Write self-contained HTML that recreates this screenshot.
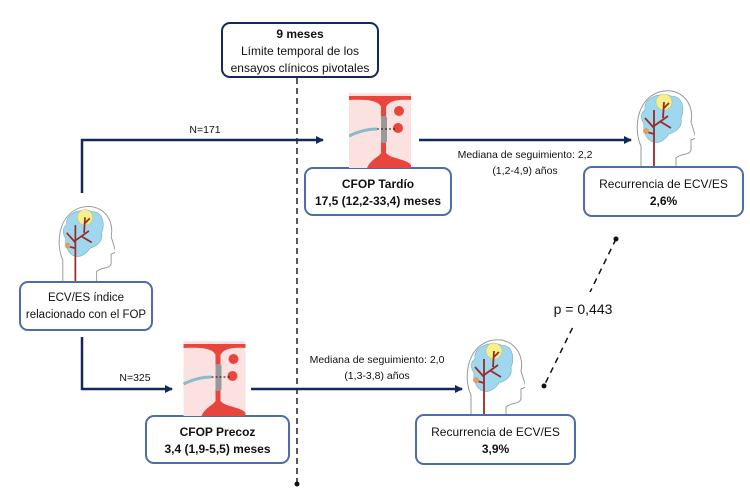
<!DOCTYPE html>
<html><head><meta charset="utf-8"><style>
body{margin:0;background:#fff;}
#c{position:relative;width:750px;height:500px;overflow:hidden;font-family:"Liberation Sans",sans-serif;color:#111;}
.box{position:absolute;box-sizing:border-box;border:2px solid #4d6cab;border-radius:9px;background:#fff;text-align:center;font-size:12px;line-height:17px;white-space:nowrap;}
.t{position:absolute;font-size:10.5px;text-align:center;line-height:16px;white-space:nowrap;}
b{font-weight:bold;}
</style></head><body><div id="c">
<svg width="750" height="500" style="position:absolute;left:0;top:0">
<defs>
<marker id="ar" markerWidth="8" markerHeight="8" refX="7" refY="4" orient="auto" markerUnits="userSpaceOnUse"><path d="M0,0 L8,4 L0,8 z" fill="#14285a"/></marker>
<symbol id="head" viewBox="0 0 60 80">
<path d="M6 80 L6 58 C-1 44 0 12 24 4 C44 -2 60 14 56 34 L61 50 L56 52 L56 62 C54 68 46 65 41 70 L41 80" fill="none" stroke="#999" stroke-width="1"/>
<path d="M10 22 C8 8 28 4 36 8 C48 8 50 22 46 30 C48 40 40 44 34 46 C30 52 24 56 18 54 C12 52 8 44 9 36 C5 30 6 24 10 22z" fill="#9fd8ee" stroke="#7ab" stroke-width="0.6"/>
<circle cx="29" cy="14" r="8" fill="#f7f08a" stroke="#bb9" stroke-width="0.6"/>
<path d="M19 80 L19 22 M19 40 L10 30 M19 38 L33 28 M26 34 L36 40 M28 30 L29 14 M29 20 L34 15 M19 46 L12 44" stroke="#9b2a2a" stroke-width="1.8" fill="none"/>
<circle cx="11" cy="43" r="3" fill="#d9a060"/>
</symbol>
<symbol id="heart" viewBox="0 0 62 75">
<rect x="0" y="0" width="62" height="75" fill="#fbe1df"/>
<path d="M0 3 L62 3 L62 7 C48 6 40 8 37 14 L37 60 C42 66 58 66 62 72 L62 75 L18 75 C22 66 30 64 32 60 L32 14 C30 8 20 6 0 7z" fill="#e8453c"/>
<circle cx="50" cy="18" r="5" fill="#e8453c"/>
<circle cx="49" cy="35" r="5" fill="#e8453c"/>
<rect x="32" y="23" width="6" height="27" rx="2" fill="#999"/>
<path d="M0 43 C10 38 20 36 28 36" stroke="#8bc" stroke-width="3" fill="none"/>
<path d="M28 36 L46 36" stroke="#111" stroke-width="1" stroke-dasharray="2,2"/>
</symbol>
</defs>
<line x1="297" y1="78" x2="297" y2="484" stroke="#222" stroke-width="1.5" stroke-dasharray="6,4"/>
<circle cx="297" cy="484" r="2.5" fill="#111"/>
<path d="M82 193 L82 140 L323 140" stroke="#14285a" stroke-width="2.5" fill="none" marker-end="url(#ar)"/>
<line x1="419" y1="140" x2="631" y2="140" stroke="#14285a" stroke-width="2.5" marker-end="url(#ar)"/>
<path d="M82 337 L82 389 L172 389" stroke="#14285a" stroke-width="2.5" fill="none" marker-end="url(#ar)"/>
<line x1="251" y1="389" x2="462" y2="389" stroke="#14285a" stroke-width="2.5" marker-end="url(#ar)"/>
<line x1="616" y1="239" x2="544" y2="386" stroke="#111" stroke-width="1.5" stroke-dasharray="6,5"/>
<circle cx="616" cy="239" r="2.5" fill="#111"/><circle cx="544" cy="386" r="2.5" fill="#111"/>
<use href="#head" x="57" y="203" width="58" height="79"/>
<use href="#head" x="635" y="88" width="60" height="80"/>
<use href="#head" x="465" y="337" width="60" height="80"/>
</svg>
<div class="box" style="left:221px;top:22px;width:158px;height:56px;border-color:#14285a;font-size:12px;line-height:17px;padding-top:2px"><b>9 meses</b><br>Límite temporal de los<br>ensayos clínicos pivotales</div>
<div class="box" style="left:304px;top:167px;width:148px;height:49px;padding-top:7px"><b>CFOP Tardío<br>17,5 (12,2-33,4) meses</b></div>
<div class="box" style="left:583px;top:166px;width:161px;height:51px;padding-top:8px">Recurrencia de ECV/ES<br><b>2,6%</b></div>
<div class="box" style="left:19px;top:281px;width:134px;height:50px;padding-top:7px;font-size:11.5px">ECV/ES índice<br>relacionado con el FOP</div>
<div class="box" style="left:145px;top:415px;width:145px;height:49px;padding-top:7px"><b>CFOP Precoz<br>3,4 (1,9-5,5) meses</b></div>
<div class="box" style="left:415px;top:414px;width:161px;height:51px;padding-top:8px">Recurrencia de ECV/ES<br><b>3,9%</b></div>
<svg width="750" height="500" style="position:absolute;left:0;top:0;pointer-events:none">
<use href="#heart" x="349" y="93" width="62" height="75"/>
<use href="#heart" x="183" y="341" width="63" height="75"/>
</svg>
<div class="t" style="left:175px;top:122px;width:60px">N=171</div>
<div class="t" style="left:110px;top:370px;width:50px">N=325</div>
<div class="t" style="left:440px;top:147px;width:170px">Mediana de seguimiento: 2,2<br>(1,2-4,9) años</div>
<div class="t" style="left:292px;top:352px;width:170px">Mediana de seguimiento: 2,0<br>(1,3-3,8) años</div>
<div class="t" style="left:552px;top:292px;width:62px;height:34px;font-size:14px;line-height:34px;background:#fff">p = 0,443</div>
</div></body></html>
